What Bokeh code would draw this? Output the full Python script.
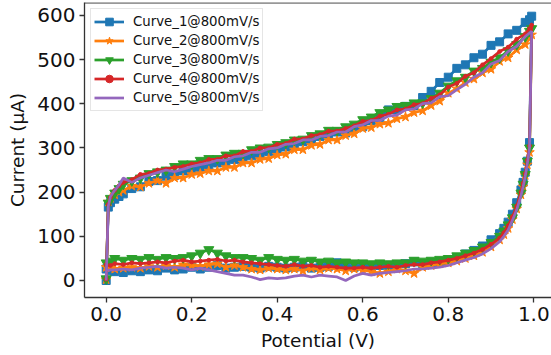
from bokeh.plotting import figure
from bokeh.models import Range1d, FixedTicker, PrintfTickFormatter, Span, Legend, LegendItem
from bokeh.embed import file_html
from bokeh.resources import INLINE

# ---------------- data ----------------
potential_fwd = [0.0, 0.005, 0.01, 0.02, 0.03,
                 0.04, 0.06, 0.08, 0.10, 0.12, 0.14, 0.16, 0.18, 0.20, 0.22,
                 0.24, 0.26, 0.28, 0.30, 0.32, 0.34, 0.36, 0.38, 0.40, 0.42,
                 0.44, 0.46, 0.48, 0.50, 0.52, 0.54, 0.56, 0.58, 0.60, 0.62,
                 0.64, 0.66, 0.68, 0.70, 0.72, 0.74, 0.76, 0.78, 0.80, 0.82,
                 0.84, 0.86, 0.88, 0.90, 0.92, 0.94, 0.96, 0.98,
                 0.99, 0.995]
potential_rev = [0.99, 0.985, 0.98, 0.975, 0.97, 0.96, 0.95, 0.94, 0.93, 0.92,
                 0.90, 0.88, 0.86, 0.84, 0.82, 0.80, 0.78, 0.76, 0.74, 0.72,
                 0.70, 0.68, 0.66, 0.64, 0.62, 0.60, 0.58, 0.56, 0.54, 0.52,
                 0.50, 0.48, 0.46, 0.44, 0.42, 0.40, 0.38, 0.36, 0.34, 0.32,
                 0.30, 0.28, 0.26, 0.24, 0.22, 0.20, 0.18, 0.16, 0.14, 0.12,
                 0.10, 0.08, 0.06, 0.04, 0.02,
                 0.01, 0.0]

curve1_fwd = [0, 166, 176, 184, 190,
              196, 208, 212, 224, 226, 236, 238, 248, 248, 256,
              258, 266, 266, 274, 274, 282, 284, 292, 292, 302,
              304, 314, 316, 326, 328, 336, 334, 344, 348, 362,
              368, 386, 386, 394, 396, 414, 428, 448, 460, 480,
              488, 504, 512, 532, 540, 558, 566, 584,
              590, 598]
curve1_rev = [312, 270, 245, 222, 205, 176, 150, 132, 118, 106,
              92, 78, 68, 60, 52, 44, 40, 36, 38, 42,
              38, 36, 34, 34, 32, 34, 30, 32, 40, 32,
              30, 28, 32, 30, 28, 30, 32, 28, 30, 32,
              30, 28, 34, 30, 26, 30, 26, 24, 28, 22,
              24, 20, 22, 18, 20,
              22, 26]

curve2_fwd = [2, 178, 186, 194, 200,
              204, 214, 212, 220, 226, 220, 232, 232, 240, 242,
              248, 248, 256, 256, 266, 266, 274, 276, 284, 286,
              296, 296, 306, 308, 318, 318, 328, 332, 344, 346,
              354, 356, 366, 370, 380, 384, 396, 406, 424, 434,
              448, 456, 470, 478, 496, 504, 522, 534,
              548, 556]
curve2_rev = [290, 262, 238, 212, 194, 162, 138, 118, 104, 92,
              76, 64, 56, 50, 44, 40, 38, 34, 30, 16,
              22, 26, 20, 16, 20, 24, 26, 22, 26, 28,
              24, 28, 22, 26, 24, 26, 28, 24, 26, 30,
              34, 30, 38, 36, 32, 34, 36, 30, 34, 30,
              32, 28, 30, 28, 26,
              28, 30]

curve3_fwd = [4, 175, 186, 198, 208,
              218, 226, 232, 242, 246, 250, 258, 264, 264, 272,
              276, 276, 284, 288, 288, 296, 300, 302, 308, 312,
              318, 320, 328, 332, 340, 340, 348, 354, 364, 370,
              380, 386, 394, 396, 402, 402, 412, 424, 440, 452,
              460, 474, 480, 494, 504, 520, 534, 552,
              564, 570]
curve3_rev = [300, 270, 240, 218, 198, 166, 142, 126, 112, 100,
              86, 76, 68, 62, 56, 50, 48, 46, 44, 46,
              40, 40, 38, 40, 38, 40, 40, 42, 40, 44,
              42, 46, 44, 48, 46, 48, 52, 46, 50, 52,
              52, 56, 62, 70, 62, 56, 52, 50, 52, 48,
              52, 48, 50, 46, 50,
              44, 40]

curve4_fwd = [3, 172, 188, 204, 214,
              222, 228, 240, 242, 250, 252, 256, 258, 264, 266,
              274, 274, 282, 282, 292, 292, 300, 300, 308, 310,
              320, 320, 328, 330, 338, 338, 344, 350, 360, 362,
              372, 376, 386, 388, 398, 400, 412, 420, 438, 446,
              462, 470, 488, 502, 518, 528, 546, 558,
              570, 578]
curve4_rev = [305, 272, 242, 220, 200, 168, 144, 124, 108, 96,
              82, 70, 62, 56, 50, 46, 42, 40, 36, 36,
              34, 30, 32, 30, 28, 30, 28, 28, 30, 32,
              30, 34, 32, 36, 32, 34, 36, 38, 40, 42,
              46, 44, 48, 46, 44, 42, 46, 44, 40, 42,
              40, 38, 40, 36, 38,
              34, 36]

curve5_fwd = [0, 168, 190, 204, 216,
              232, 222, 232, 238, 244, 250, 246, 252, 258, 262,
              266, 272, 272, 280, 282, 290, 290, 298, 300, 308,
              310, 318, 318, 326, 328, 336, 336, 348, 352, 362,
              362, 372, 374, 386, 388, 400, 402, 416, 418, 432,
              444, 460, 470, 490, 498, 518, 530, 552,
              560, 564]
curve5_rev = [300, 265, 236, 212, 192, 160, 136, 114, 100, 88,
              72, 60, 52, 46, 40, 34, 30, 28, 26, 26,
              22, 20, 18, 16, 12, 16, 10, 0, 8, 10,
              12, 8, 12, 10, 6, 4, 6, 2, 8, 12,
              12, 16, 20, 24, 28, 24, 28, 30, 28, 32,
              30, 28, 24, 26, 24,
              24, 22]

labels = ["Curve_1@800mV/s", "Curve_2@800mV/s", "Curve_3@800mV/s",
          "Curve_4@800mV/s", "Curve_5@800mV/s"]
x_ticks = [0.0, 0.2, 0.4, 0.6, 0.8, 1.0]
y_ticks = [0, 100, 200, 300, 400, 500, 600]

series_fwd = [curve1_fwd, curve2_fwd, curve3_fwd, curve4_fwd, curve5_fwd]
series_rev = [curve1_rev, curve2_rev, curve3_rev, curve4_rev, curve5_rev]

# ---------------- styling ----------------
colors = ["#1f77b4", "#ff7f0e", "#2ca02c", "#d62728", "#9467bd"]
markers = ["square", "star", "inverted_triangle", "circle", None]
msizes = [8, 10, 10, 3.8, 0]

X0, X1 = -0.0507, 1.0414
Y0, Y1 = -38.5, 629

p = figure(width=551, height=355, output_backend="svg", toolbar_location=None,
           x_range=Range1d(X0, X1), y_range=Range1d(Y0, Y1),
           min_border_left=84, min_border_right=0, min_border_top=2,
           min_border_bottom=58)
p.outline_line_color = None
p.grid.visible = False
p.background_fill_color = "white"
p.border_fill_color = "white"

items = []
for i in range(5):
    xs = potential_fwd + potential_rev
    ys = series_fwd[i] + series_rev[i]
    assert len(xs) == len(ys), (i, len(xs), len(ys))
    rs = []
    rs.append(p.line(xs, ys, line_color=colors[i], line_width=2.7))
    if markers[i] is not None:
        rs.append(p.scatter(xs, ys, marker=markers[i], size=msizes[i],
                            fill_color=colors[i], line_color=colors[i]))
    items.append(LegendItem(label=labels[i], renderers=rs))

top_spine = Span(location=Y1 - 1, dimension="width", line_color="#333333", line_width=1.3)
p.add_layout(top_spine)

for ax in (p.xaxis[0], p.yaxis[0]):
    ax.axis_line_color = "#333333"
    ax.axis_line_width = 1.3
    ax.major_tick_line_color = "#333333"
    ax.major_tick_line_width = 1.3
    ax.major_tick_out = 5
    ax.major_tick_in = 0
    ax.minor_tick_line_color = None
    ax.major_label_text_font = "DejaVu Sans"
    ax.major_label_text_font_size = "20px"
    ax.major_label_text_color = "#111111"
    ax.major_label_standoff = 4
    ax.axis_label_text_font = "DejaVu Sans"
    ax.axis_label_text_font_size = "18.5px"
    ax.axis_label_text_font_style = "normal"
    ax.axis_label_text_color = "#111111"
    ax.axis_label_standoff = 6

p.xaxis.ticker = FixedTicker(ticks=x_ticks)
p.xaxis.formatter = PrintfTickFormatter(format="%.1f")
p.yaxis.ticker = FixedTicker(ticks=y_ticks)
p.xaxis.axis_label = "Potential (V)"
p.yaxis.axis_label = "Current (μA)"

legend = Legend(items=items, location="top_left", margin=6, padding=3, spacing=0,
                glyph_width=30, glyph_height=19, label_height=19, label_standoff=9,
                label_text_font="DejaVu Sans", label_text_font_size="13.3px",
                label_text_color="#111111",
                border_line_color="#cccccc", border_line_width=1,
                background_fill_color="white", background_fill_alpha=0.85)
p.add_layout(legend)

open("out.html", "w").write(file_html(p, INLINE))
